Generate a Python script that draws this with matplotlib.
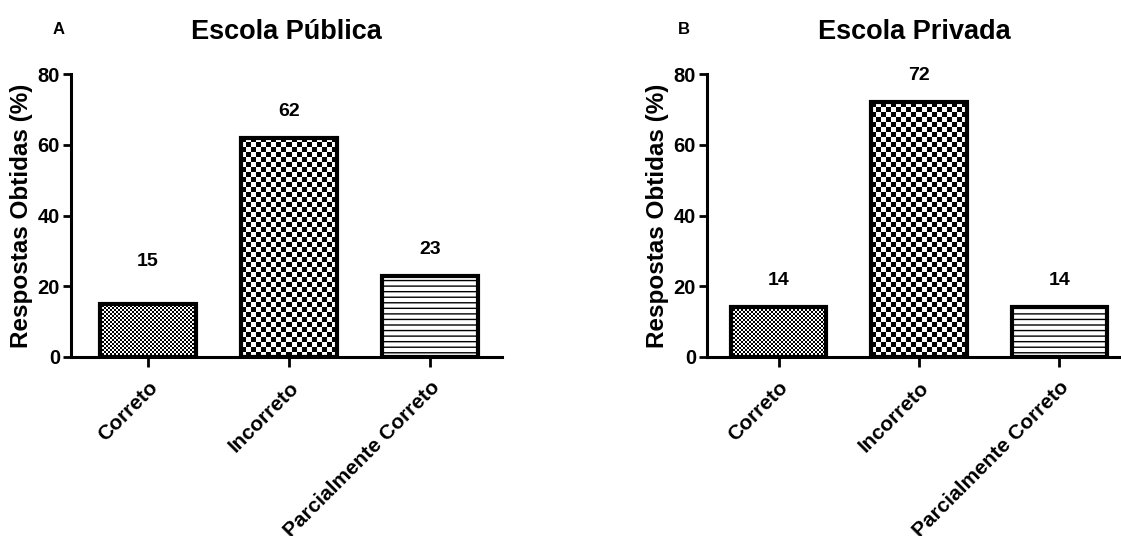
import numpy as np
import matplotlib
matplotlib.use("Agg")
import matplotlib.pyplot as plt

plt.rcParams["font.family"] = ["Liberation Sans", "DejaVu Sans"]
plt.rcParams["font.weight"] = "bold"
plt.rcParams["hatch.linewidth"] = 1.0

categories = ["Correto", "Incorreto", "Parcialmente Correto"]
publica = [15, 62, 23]
privada = [14, 72, 14]
titles = ["Escola Pública", "Escola Privada"]
letters = ["A", "B"]
y_ticks = [0, 20, 40, 60, 80]

# fill style for each category: checker cell size in px, or hatch
cell_px = [2, 5, None]
label_offsets = [[12, 7.5, 7.5], [7.5, 7.5, 7.5]]

W, H = 1121, 536
fig = plt.figure(figsize=(W / 100, H / 100), dpi=100)

ax_a = fig.add_axes([71 / W, 179 / H, 431 / W, 283 / H])
ax_b = fig.add_axes([707 / W, 179 / H, 414 / W, 283 / H])
xlims = [(-0.546, 2.51), (-0.51, 2.44)]

for i, (ax, values) in enumerate(zip([ax_a, ax_b], [publica, privada])):
    x = np.arange(len(categories))
    ax.set_xlim(*xlims[i])
    ax.set_ylim(0, 80)
    width = 0.68

    bars = ax.bar(
        x,
        values,
        width=width,
        color="white",
        edgecolor="black",
        linewidth=3,
        zorder=3,
    )
    bars[2].set_hatch("---")

    fig.canvas.draw()
    for j, bar in enumerate(bars):
        if cell_px[j] is None:
            continue
        bar.set_facecolor("none")
        x0, y0 = bar.get_x(), 0
        x1, y1 = bar.get_x() + bar.get_width(), bar.get_height()
        p0 = ax.transData.transform((x0, y0))
        p1 = ax.transData.transform((x1, y1))
        nx = max(1, int(round((p1[0] - p0[0]) / cell_px[j])))
        ny = max(1, int(round((p1[1] - p0[1]) / cell_px[j])))
        checker = (np.add.outer(np.arange(ny), np.arange(nx)) % 2).astype(float)
        ax.imshow(
            checker,
            cmap="gray",
            vmin=0,
            vmax=1,
            extent=(x0, x1, y0, y1),
            aspect="auto",
            interpolation="nearest",
            zorder=2,
        )

    for j, v in enumerate(values):
        ax.text(
            x[j],
            v + label_offsets[i][j],
            str(v),
            ha="center",
            va="center",
            fontsize=14,
            fontweight="bold",
        )

    ax.set_xlim(*xlims[i])
    ax.set_ylim(0, 80)
    ax.set_xticks(x)
    ax.set_xticklabels(
        categories,
        rotation=45,
        ha="right",
        rotation_mode="anchor",
        fontsize=15,
        fontweight="bold",
    )
    ax.set_yticks(y_ticks)
    ax.set_yticklabels([str(t) for t in y_ticks], fontsize=14.5, fontweight="bold")
    ax.tick_params(axis="y", length=6, width=2, pad=2)
    ax.tick_params(axis="x", length=7, width=2, pad=8)

    ax.spines["top"].set_visible(False)
    ax.spines["right"].set_visible(False)
    ax.spines["left"].set_linewidth(2.2)
    ax.spines["bottom"].set_linewidth(2.2)

    ax.set_ylabel("Respostas Obtidas (%)", fontsize=17.5, fontweight="bold", labelpad=3)
    ax.set_title(titles[i], fontsize=19.5, fontweight="bold", pad=25)

fig.text(59 / W, 1 - 29 / H, letters[0], fontsize=12, fontweight="bold", ha="center", va="center")
fig.text(684 / W, 1 - 29 / H, letters[1], fontsize=12, fontweight="bold", ha="center", va="center")

fig.savefig("out.png", dpi=100)
